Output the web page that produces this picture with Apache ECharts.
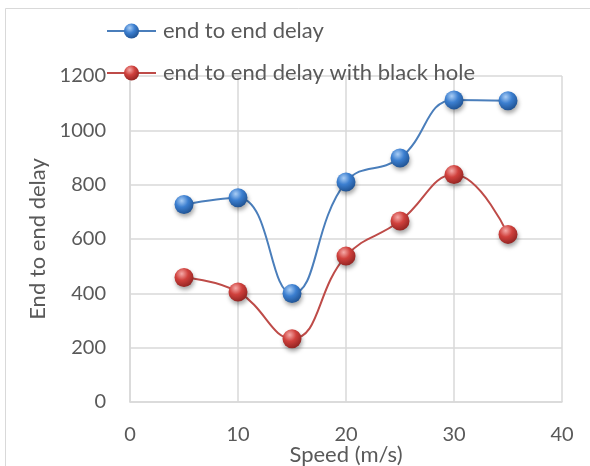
<!DOCTYPE html>
<html>
<head>
<meta charset="utf-8">
<script src="https://cdn.jsdelivr.net/npm/echarts@6/dist/echarts.min.js"></script>
<style>
  html, body { margin: 0; padding: 0; background: #ffffff; }
  #chart { width: 590px; height: 466px; }
</style>
</head>
<body>
<div id="chart"></div>
<script>
// Speed (m/s) and measured end-to-end delay
const speeds = [5, 10, 15, 20, 25, 30, 35];
const delayNormal = [727, 752, 399, 810, 898, 1112, 1109];
const delayBlackHole = [458, 405, 233, 537, 666, 837, 617];
const seriesNames = ['end to end delay', 'end to end delay with black hole'];

const FONT = 'Lato, "Open Sans", sans-serif';
const TEXT = '#595959';
const GRID = '#d9d9d9';

// glossy ball marker
function sphere(light, base, dark) {
  return {
    type: 'radial', x: 0.38, y: 0.3, r: 0.75,
    colorStops: [
      { offset: 0, color: light },
      { offset: 0.45, color: base },
      { offset: 1, color: dark }
    ]
  };
}

function pairs(xs, ys) {
  return xs.map((x, i) => [x, ys[i]]);
}

function lineSeries(name, values, lineColor, fill) {
  return {
    name: name,
    type: 'line',
    data: pairs(speeds, values),
    smooth: 0.45,
    symbol: 'circle',
    symbolSize: 19,
    lineStyle: { color: lineColor, width: 2 },
    itemStyle: {
      color: fill,
      borderWidth: 0,
      shadowBlur: 4,
      shadowOffsetX: 1,
      shadowOffsetY: 3,
      shadowColor: 'rgba(0,0,0,0.35)'
    },
    emphasis: { disabled: true },
    z: 3
  };
}

const chart = echarts.init(document.getElementById('chart'), null, { renderer: 'canvas' });
chart.setOption({
  animation: false,
  backgroundColor: '#ffffff',
  textStyle: { fontFamily: FONT },
  graphic: [{
    type: 'rect',
    shape: { x: 5.5, y: 8.5, width: 620, height: 480 },
    style: { fill: 'none', stroke: GRID, lineWidth: 1 },
    silent: true
  }],
  legend: {
    orient: 'vertical',
    left: 106,
    top: 20,
    padding: 0,
    itemWidth: 49,
    itemHeight: 19,
    itemGap: 20,
    data: seriesNames,
    textStyle: { color: TEXT, fontSize: 22, fontFamily: FONT, padding: [0, 0, 0, 2] },
    z: 5
  },
  grid: { left: 130, right: 28, top: 76, bottom: 64, outerBoundsMode: 'none' },
  xAxis: {
    type: 'value',
    min: 0, max: 40, interval: 10,
    name: 'Speed (m/s)',
    nameLocation: 'middle',
    nameGap: 42,
    nameMoveOverlap: false,
    nameTextStyle: { color: TEXT, fontSize: 22, fontFamily: FONT },
    axisLine: { show: true, lineStyle: { color: GRID, width: 1.5 } },
    axisTick: { show: false },
    axisLabel: { color: TEXT, fontSize: 20, margin: 23, fontFamily: FONT },
    splitLine: { show: true, lineStyle: { color: GRID, width: 1.5 } }
  },
  yAxis: {
    type: 'value',
    min: 0, max: 1200, interval: 200,
    name: 'End to end delay',
    nameLocation: 'middle',
    nameGap: 81,
    nameMoveOverlap: false,
    nameTextStyle: { color: TEXT, fontSize: 22, fontFamily: FONT },
    axisLine: { show: true, lineStyle: { color: GRID, width: 1.5 } },
    axisTick: { show: false },
    axisLabel: { color: TEXT, fontSize: 20, margin: 24, fontFamily: FONT, formatter: v => String(v) },
    splitLine: { show: true, lineStyle: { color: GRID, width: 1.5 } }
  },
  series: [
    lineSeries(seriesNames[0], delayNormal, '#4a7ebb', sphere('#a9cdf5', '#3c7fd0', '#1d4f8e')),
    lineSeries(seriesNames[1], delayBlackHole, '#be4b48', sphere('#f5aaa8', '#d0413d', '#8e2220'))
  ]
});
</script>
</body>
</html>
